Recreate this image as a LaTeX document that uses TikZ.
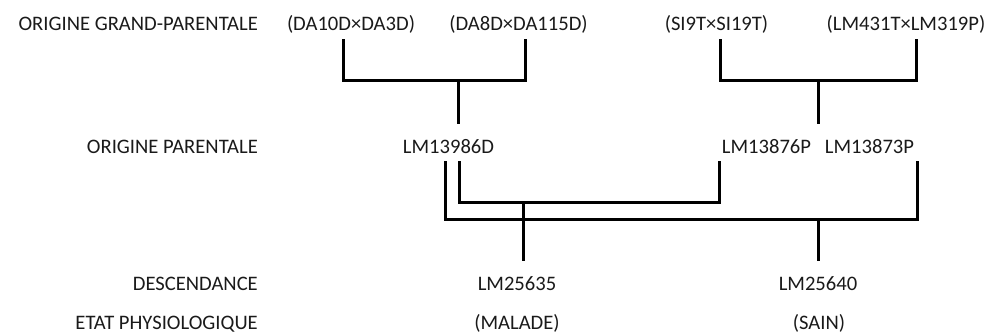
\documentclass[tikz,border=0pt]{standalone}
\usepackage{fontspec}
\setmainfont{Carlito}
\usepackage{tikz}
\definecolor{labelText}{HTML}{1A1A1A}
\tikzset{
  font=\fontsize{20.6}{24}\selectfont,
  gen/.style  ={anchor=base, text=labelText, inner sep=4pt, text height=13pt, text depth=5pt},
  row/.style  ={gen, anchor=base east},
  link/.style ={draw=black, line width=3pt, line cap=rect},
}

\begin{document}
\begin{tikzpicture}[x=1pt, y=-1pt]
  \useasboundingbox (0,0) rectangle (995,335);

  % row titles, right aligned
  \node[row] (tGP) at (262,30)  {ORIGINE GRAND-PARENTALE};
  \node[row] (tP)  at (262,153) {ORIGINE PARENTALE};
  \node[row] (tD)  at (262,290) {DESCENDANCE};
  \node[row] (tE)  at (262,329) {ETAT PHYSIOLOGIQUE};

  % grand-parental crosses
  \node[gen] (gpA) at (351,30)   {(DA10D×DA3D)};
  \node[gen] (gpB) at (518.5,30) {(DA8D×DA115D)};
  \node[gen] (gpC) at (716.5,30) {(SI9T×SI19T)};
  \node[gen] (gpD) at (906,30)   {(LM431T×LM319P)};

  % parents
  \node[gen] (parA) at (448.5,153) {LM13986D};
  \node[gen] (parB) at (766.5,153) {LM13876P};
  \node[gen] (parC) at (869.5,153) {LM13873P};

  % offspring and their state
  \node[gen] (descA)  at (517,290) {LM25635};
  \node[gen] (descB)  at (818,290) {LM25640};
  \node[gen] (etatA)  at (517,329) {(MALADE)};
  \node[gen] (etatB)  at (819,329) {(SAIN)};

  % brackets from the grand-parents
  \coordinate (barA) at (458,80);
  \coordinate (barB) at (818,80);
  \coordinate (stemB) at (818,122);
  \draw[link] ([xshift=-8pt,yshift=-1pt]gpA.south) |- (barA) -| ([xshift=6.5pt,yshift=-1pt]gpB.south);
  \draw[link] (barA) -- ([yshift=13pt]barA |- parA.north);
  \draw[link] ([xshift=3.5pt,yshift=-1pt]gpC.south) |- (barB) -| ([xshift=10pt,yshift=-1pt]gpD.south);
  \draw[link] (barB) -- (stemB);

  % crosses giving the offspring
  \coordinate (barC) at (523,202);
  \coordinate (barD) at (818,219);
  \draw[link] ([xshift=10.5pt]parA.south) |- (barC) -| ([xshift=-47.5pt]parB.south);
  \draw[link] (barC) -- ([yshift=13pt]barC |- descA.north);
  \draw[link] ([xshift=-3.5pt]parA.south) |- (barD) -| ([xshift=47.5pt]parC.south);
  \draw[link] (barD) -- ([yshift=13pt]barD |- descB.north);
\end{tikzpicture}
\end{document}
